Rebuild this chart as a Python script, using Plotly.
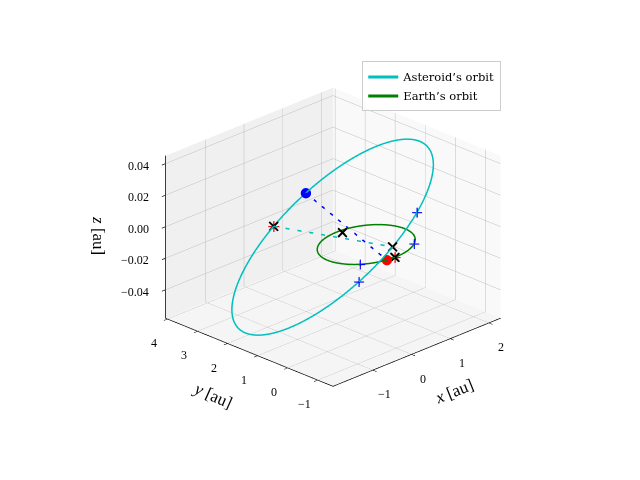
import numpy as np
import plotly.graph_objects as go

# ---------------- data ----------------
x_range = [-2.03, 2.30]
y_range = [-1.51, 4.07]
z_range = [-0.058, 0.045]
x_ticks = [-1, 0, 1, 2]
y_ticks = [-1, 0, 1, 2, 3, 4]
z_ticks = [-0.04, -0.02, 0.0, 0.02, 0.04]
x_ticktext = ["\u22121", "0", "1", "2"]
y_ticktext = ["\u22121", "0", "1", "2", "3", "4"]
z_ticktext = ["\u22120.04", "\u22120.02", "0.00", "0.02", "0.04"]

# Earth's orbit: circle of radius 1 au in the ecliptic plane
earth_radius = 1.0
# Asteroid's orbit: ellipse centre and two conjugate semi-axis vectors [au]
ast_center = [0.125, 1.28, -0.0065]
ast_axis_u = [1.958, 0.013, 0.0425]
ast_axis_v = [-0.245, -2.54, 0.0214]

# marker positions, as orbit angles [deg]
ast_plus_deg = [116.4, 74.7]
earth_plus_deg = [-50.0, -135.0]
ast_blue_dot_deg = -63.9
earth_red_dot_deg = -103.0
ast_cross_deg = [-84.3, 95.0]
ast_redcross_deg = [-84.3]
earth_cross_deg = [-92.0]
free_cross = [0.075, 0.888, 0.0]

# ---------------- helpers ----------------
def ast_point(deg):
    t = np.radians(np.asarray(deg, dtype=float))
    c, s = np.cos(t), np.sin(t)
    return [ast_center[i] + ast_axis_u[i] * c + ast_axis_v[i] * s for i in range(3)]

def earth_point(deg):
    t = np.radians(np.asarray(deg, dtype=float))
    return [earth_radius * np.cos(t), earth_radius * np.sin(t), 0.0 * t]

theta = np.linspace(0, 360, 361)
ax_, ay_, az_ = ast_point(theta)
ex_, ey_, ez_ = earth_point(theta)

CYAN = "#00bfbf"
GREEN = "#008000"
BLUE = "#0000ff"
RED = "#ff0000"
FONT = "Liberation Serif"

fig = go.Figure()
fig.add_trace(go.Scatter3d(x=ax_, y=ay_, z=az_, mode="lines",
                           line=dict(color=CYAN, width=3), name="Asteroid\u2019s orbit"))
fig.add_trace(go.Scatter3d(x=ex_, y=ey_, z=ez_, mode="lines",
                           line=dict(color=GREEN, width=3), name="Earth\u2019s orbit"))

# dashed connecting lines
bd = ast_point(ast_blue_dot_deg)
rd = earth_point(earth_red_dot_deg)
fig.add_trace(go.Scatter3d(x=[bd[0], rd[0]], y=[bd[1], rd[1]], z=[bd[2], float(rd[2])],
                           mode="lines", line=dict(color=BLUE, width=3, dash="longdash"),
                           showlegend=False))
c1 = ast_point(ast_cross_deg[0])
c2 = ast_point(ast_cross_deg[1])
fig.add_trace(go.Scatter3d(x=[c1[0], c2[0]], y=[c1[1], c2[1]], z=[c1[2], c2[2]],
                           mode="lines", line=dict(color=CYAN, width=3, dash="longdash"),
                           showlegend=False))

# plus markers
pa = ast_point(ast_plus_deg)
pe = earth_point(earth_plus_deg)
fig.add_trace(go.Scatter3d(x=list(pa[0]) + list(pe[0]), y=list(pa[1]) + list(pe[1]),
                           z=list(pa[2]) + list(pe[2]), mode="markers",
                           marker=dict(symbol="cross", size=5.5, color=BLUE), showlegend=False))
# dots
fig.add_trace(go.Scatter3d(x=[bd[0]], y=[bd[1]], z=[bd[2]], mode="markers",
                           marker=dict(symbol="circle", size=6, color=BLUE), showlegend=False))
fig.add_trace(go.Scatter3d(x=[rd[0]], y=[rd[1]], z=[float(rd[2])], mode="markers",
                           marker=dict(symbol="circle", size=6, color=RED), showlegend=False))
# red crosses (under the black ones)
ca = ast_point(ast_cross_deg)
ra = ast_point(ast_redcross_deg)
re_ = earth_point(earth_cross_deg)
fig.add_trace(go.Scatter3d(x=list(ra[0]) + list(re_[0]), y=list(ra[1]) + list(re_[1]),
                           z=list(ra[2]) + list(re_[2]), mode="markers",
                           marker=dict(symbol="cross", size=6, color=RED), showlegend=False))
# black crosses
fig.add_trace(go.Scatter3d(x=list(ca[0]) + list(re_[0]) + [free_cross[0]],
                           y=list(ca[1]) + list(re_[1]) + [free_cross[1]],
                           z=list(ca[2]) + list(re_[2]) + [free_cross[2]], mode="markers",
                           marker=dict(symbol="x", size=2.2, color="black"), showlegend=False))

# tick labels and axis titles as scene annotations (horizontal, matplotlib-like placement)
tick_font = dict(family=FONT, size=12, color="black")
title_font = dict(family=FONT, size=17, color="black")
annotations = []
for v, t in zip(x_ticks, x_ticktext):
    annotations.append(dict(x=v, y=y_range[0], z=z_range[0], text=t, showarrow=False,
                            xshift=12, yshift=-24, font=tick_font))
for v, t in zip(y_ticks, y_ticktext):
    annotations.append(dict(x=x_range[0], y=v, z=z_range[0], text=t, showarrow=False,
                            xshift=-13, yshift=-24, font=tick_font))
for v, t in zip(z_ticks, z_ticktext):
    annotations.append(dict(x=x_range[0], y=y_range[1], z=v, text=t, showarrow=False,
                            xanchor="right", xshift=-14, yshift=-2, font=tick_font))
x_mid = 0.5 * (x_range[0] + x_range[1])
y_mid = 0.5 * (y_range[0] + y_range[1])
z_mid = 0.5 * (z_range[0] + z_range[1])
annotations.append(dict(x=x_mid, y=y_range[0], z=z_range[0], text="<i>x</i> [au]",
                        showarrow=False, xshift=37, yshift=-39, textangle=-22, font=title_font))
annotations.append(dict(x=x_range[0], y=y_mid, z=z_range[0], text="<i>y</i> [au]",
                        showarrow=False, xshift=-36, yshift=-43, textangle=24, font=title_font))
annotations.append(dict(x=x_range[0], y=y_range[1], z=z_mid, text="<i>z</i> [au]",
                        showarrow=False, xshift=-66, yshift=2, textangle=90, font=title_font))

axis_common = dict(showbackground=True, gridcolor="rgb(190,190,190)", gridwidth=1,
                   showline=True, linecolor="black", linewidth=1.5, zeroline=False,
                   ticks="outside", tickcolor="black", ticklen=5, tickwidth=1.5,
                   showspikes=False, showticklabels=False, title=dict(text=""))

el = np.radians(24.0)
r = 2.68
eye = dict(x=-r * np.cos(el) * np.sqrt(0.5), y=-r * np.cos(el) * np.sqrt(0.5), z=r * np.sin(el))

fig.update_layout(
    width=640, height=480, margin=dict(l=0, r=0, t=0, b=0),
    paper_bgcolor="white",
    font=dict(family=FONT, color="black"),
    scene=dict(
        domain=dict(x=[0.04, 1], y=[0.012, 1]),
        xaxis=dict(axis_common, range=x_range, tickvals=x_ticks,
                   backgroundcolor="rgb(249,249,249)"),
        yaxis=dict(axis_common, range=y_range, tickvals=y_ticks,
                   backgroundcolor="rgb(240,240,240)"),
        zaxis=dict(axis_common, range=z_range, tickvals=z_ticks,
                   backgroundcolor="rgb(245,245,245)"),
        aspectmode="manual", aspectratio=dict(x=1, y=1, z=0.75),
        camera=dict(eye=eye, up=dict(x=0, y=0, z=1), center=dict(x=0, y=0, z=0),
                    projection=dict(type="orthographic")),
        annotations=annotations,
    ),
    legend=dict(x=0.566, y=0.872, xanchor="left", yanchor="top", itemwidth=30,
                bgcolor="rgba(255,255,255,0.8)", bordercolor="rgb(204,204,204)", borderwidth=1,
                font=dict(family="DejaVu Serif", size=11.5, color="black")),
)

fig.write_html("out.html")
